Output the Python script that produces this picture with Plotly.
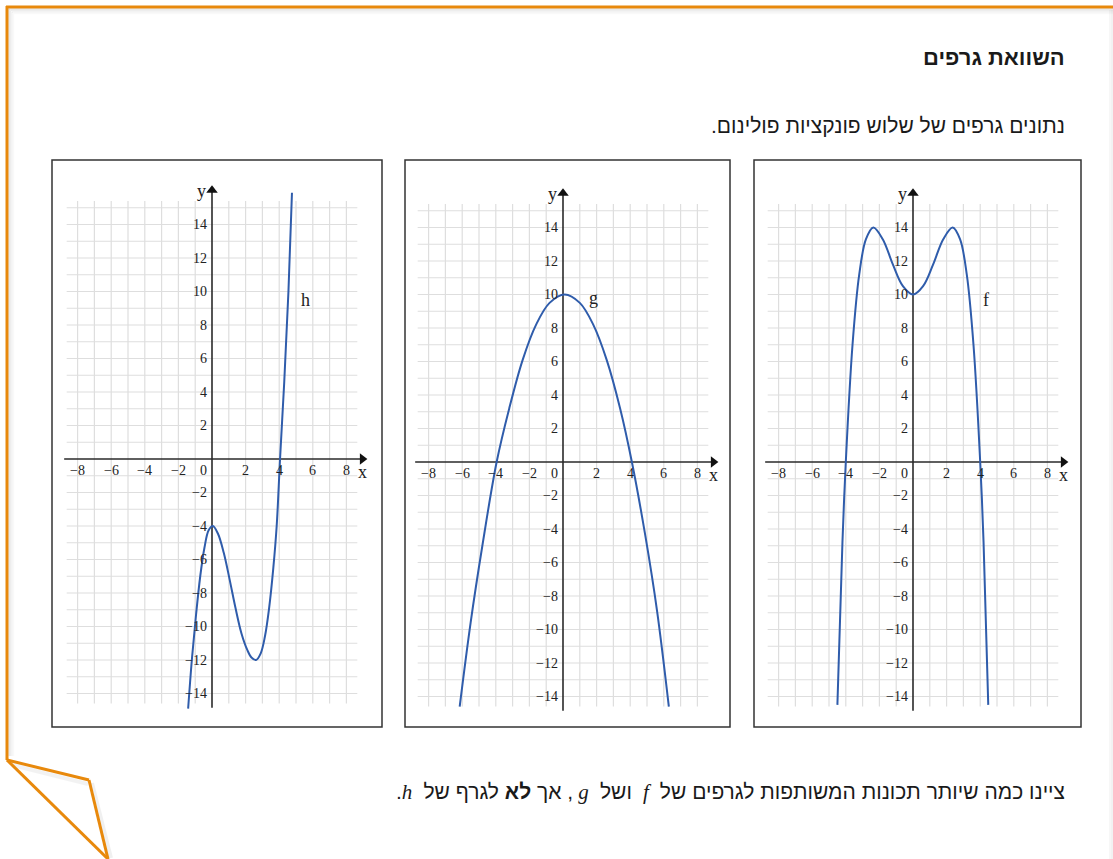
import plotly.graph_objects as go

W, H = 1113, 859

# ---------------- data ----------------
h_x = [-1.42, -1.2, -0.95, -0.7, -0.45, -0.2, 0.05, 0.35, 0.7, 1.05, 1.4, 1.75, 2.1, 2.35,
       2.62, 2.9, 3.15, 3.4, 3.65, 3.85, 4.05, 4.3, 4.55, 4.76]
h_y = [-14.9, -12.0, -9.3, -7.0, -5.3, -4.25, -4.0, -4.45, -5.6, -7.2, -8.9, -10.4, -11.4, -11.85,
       -12.0, -11.6, -10.6, -8.9, -6.5, -4.0, 0.0, 4.6, 10.0, 15.9]

g_x = [-6.15, -5.5, -4.8, -3.95, -3.2, -2.4, -1.6, -0.8, 0.1, 1.0, 1.8, 2.6, 3.4, 4.1, 4.9, 5.6, 6.3]
g_y = [-14.6, -9.6, -5.0, 0.0, 3.2, 6.1, 8.2, 9.5, 10.0, 9.5, 8.2, 6.1, 3.2, 0.0, -4.4, -8.9, -14.6]

f_x = [-4.5, -4.2, -4.0, -3.6, -3.2, -2.8, -2.36, -1.8, -1.2, -0.6, 0.0,
       0.6, 1.2, 1.8, 2.36, 2.8, 3.2, 3.6, 4.0, 4.2, 4.48]
f_y = [-14.5, -4.8, 0.0, 7.0, 11.2, 13.3, 14.0, 13.3, 11.8, 10.5, 10.0,
       10.5, 11.8, 13.3, 14.0, 13.3, 11.2, 7.0, 0.0, -4.8, -14.5]

x_tick_vals = [-8, -6, -4, -2, 2, 4, 6, 8]
y_tick_vals = [-14, -12, -10, -8, -6, -4, -2, 2, 4, 6, 8, 10, 12, 14]
grid_x_vals = [-8, -7, -6, -5, -4, -3, -2, -1, 1, 2, 3, 4, 5, 6, 7, 8]
grid_y_vals = [-14, -13, -12, -11, -10, -9, -8, -7, -6, -5, -4, -3, -2, -1,
               1, 2, 3, 4, 5, 6, 7, 8, 9, 10, 11, 12, 13, 14, 15]
curve_names = ["h", "g", "f"]
curve_label_pos = [(5.55, 9.5), (1.8, 9.8), (4.35, 9.7)]

title_text = "השוואת גרפים"
intro_text = "נתונים גרפים של שלוש פונקציות פולינום."
question_html = ("ציינו כמה שיותר תכונות המשותפות לגרפים של "
                 "<span style='font-family:Liberation Serif;font-style:italic'> f </span> ושל "
                 "<span style='font-family:Liberation Serif;font-style:italic'> g </span>, אך "
                 "<b>לא</b> לגרף של "
                 "<span style='font-family:Liberation Serif;font-style:italic'> h</span>.")

# ---------------- layout geometry ----------------
PXU_X, PXU_Y = 16.8, 16.75
panels = [
    dict(box=(52, 382, 160, 727), origin=(212, 459), xs=h_x, ys=h_y),
    dict(box=(405, 730, 160, 727), origin=(563, 462), xs=g_x, ys=g_y),
    dict(box=(754, 1081, 160, 727), origin=(913, 462), xs=f_x, ys=f_y),
]

CURVE = "#2f5cab"
AX = "#2a2a2a"
GRID = "#dedede"
TICKC = "#222222"
SERIF = "Liberation Serif, Times New Roman, serif"
SANS = "Liberation Sans, Arial, DejaVu Sans, sans-serif"
ORANGE = "#E8890C"

fig = go.Figure()
annotations = []
shapes = []
layout_axes = {}

for i, p in enumerate(panels):
    n = i + 1
    xa = "x" if n == 1 else f"x{n}"
    ya = "y" if n == 1 else f"y{n}"
    x0, x1, y0, y1 = p["box"]
    ox, oy = p["origin"]
    layout_axes["xaxis" if n == 1 else f"xaxis{n}"] = dict(
        domain=[x0 / W, x1 / W], range=[(x0 - ox) / PXU_X, (x1 - ox) / PXU_X],
        visible=False, fixedrange=True, anchor=ya)
    layout_axes["yaxis" if n == 1 else f"yaxis{n}"] = dict(
        domain=[1 - y1 / H, 1 - y0 / H], range=[(oy - y1) / PXU_Y, (oy - y0) / PXU_Y],
        visible=False, fixedrange=True, anchor=xa)

    # grid
    gx, gy = [], []
    for v in grid_x_vals:
        gx += [v, v, None]
        gy += [-14.6, 15.4, None]
    fig.add_trace(go.Scatter(x=gx, y=gy, mode="lines", line=dict(color=GRID, width=1.2),
                             xaxis=xa, yaxis=ya, hoverinfo="skip", showlegend=False))
    hx, hy = [], []
    for v in grid_y_vals:
        hx += [-8.65, 8.65, None]
        hy += [v, v, None]
    fig.add_trace(go.Scatter(x=hx, y=hy, mode="lines", line=dict(color=GRID, width=1.2),
                             xaxis=xa, yaxis=ya, hoverinfo="skip", showlegend=False))
    # axes
    fig.add_trace(go.Scatter(x=[-8.8, 9.0, None, 0, 0], y=[0, 0, None, -14.85, 16.1],
                             mode="lines", line=dict(color=AX, width=1.6),
                             xaxis=xa, yaxis=ya, hoverinfo="skip", showlegend=False))
    fig.add_trace(go.Scatter(x=[8.95], y=[0], mode="markers",
                             marker=dict(symbol="triangle-right", size=10, color="#111"),
                             xaxis=xa, yaxis=ya, hoverinfo="skip", showlegend=False))
    fig.add_trace(go.Scatter(x=[0], y=[16.05], mode="markers",
                             marker=dict(symbol="triangle-up", size=10, color="#111"),
                             xaxis=xa, yaxis=ya, hoverinfo="skip", showlegend=False))
    # curve
    fig.add_trace(go.Scatter(x=p["xs"], y=p["ys"], mode="lines",
                             line=dict(color=CURVE, width=2, shape="spline", smoothing=1.0),
                             xaxis=xa, yaxis=ya, hoverinfo="skip", showlegend=False))

    # tick labels
    for v in x_tick_vals:
        annotations.append(dict(x=v, y=0, xref=xa, yref=ya, text=f"−{abs(v)}" if v < 0 else str(v),
                                showarrow=False, xanchor="center", yanchor="top", yshift=-2,
                                font=dict(family=SERIF, size=14, color=TICKC)))
    annotations.append(dict(x=0, y=0, xref=xa, yref=ya, text="0", showarrow=False,
                            xanchor="right", yanchor="top", xshift=-3, yshift=-2,
                            font=dict(family=SERIF, size=14, color=TICKC)))
    for v in y_tick_vals:
        annotations.append(dict(x=0, y=v, xref=xa, yref=ya, text=f"−{abs(v)}" if v < 0 else str(v),
                                showarrow=False, xanchor="right", yanchor="middle", xshift=-3,
                                font=dict(family=SERIF, size=14, color=TICKC)))
    annotations.append(dict(x=8.95, y=-0.75, xref=xa, yref=ya, text="x", showarrow=False,
                            font=dict(family=SERIF, size=18, color="#222")))
    annotations.append(dict(x=-0.6, y=16.0, xref=xa, yref=ya, text="y", showarrow=False,
                            font=dict(family=SERIF, size=18, color="#222")))
    lx, ly = curve_label_pos[i]
    annotations.append(dict(x=lx, y=ly, xref=xa, yref=ya, text=curve_names[i], showarrow=False,
                            font=dict(family=SERIF, size=18, color="#222")))
    # panel border
    shapes.append(dict(type="rect", xref=f"{xa} domain", yref=f"{ya} domain",
                       x0=0, x1=1, y0=0, y1=1, line=dict(color="#333", width=1.5)))


def px(x):
    return x / W


def py(y):
    return 1 - y / H


# page shadow (inner, soft)
for k, a in enumerate([0.10, 0.07, 0.045, 0.025]):
    d = 9 + 1.5 * k
    shapes.append(dict(type="line", xref="paper", yref="paper", x0=px(d), x1=px(W),
                       y0=py(d), y1=py(d), line=dict(color=f"rgba(0,0,0,{a})", width=1.5)))
    shapes.append(dict(type="line", xref="paper", yref="paper", x0=px(d), x1=px(d),
                       y0=py(d), y1=py(756), line=dict(color=f"rgba(0,0,0,{a})", width=1.5)))
for k, a in enumerate([0.05, 0.03]):
    xx = W - 1 - 2 * k
    shapes.append(dict(type="line", xref="paper", yref="paper", x0=px(xx), x1=px(xx),
                       y0=py(10), y1=py(H), line=dict(color=f"rgba(0,0,0,{a})", width=2)))
# fold shadow
shapes.append(dict(type="line", xref="paper", yref="paper", x0=px(92), x1=px(111),
                   y0=py(783), y1=py(858), line=dict(color="rgba(0,0,0,0.06)", width=4)))
shapes.append(dict(type="line", xref="paper", yref="paper", x0=px(12), x1=px(88),
                   y0=py(765), y1=py(784), line=dict(color="rgba(0,0,0,0.05)", width=4)))

# orange frame
orange_lines = [((6, 7), (W, 7)), ((7, 6), (7, 760)), ((7, 760), (89, 780)),
                ((89, 780), (108, 859)), ((7, 760), (108, 859))]
for (a, b) in orange_lines:
    shapes.append(dict(type="line", xref="paper", yref="paper", x0=px(a[0]), y0=py(a[1]),
                       x1=px(b[0]), y1=py(b[1]), line=dict(color=ORANGE, width=3)))

RLE, PDF = "\u202B", "\u202C"
annotations.append(dict(x=px(1067), y=py(57), xref="paper", yref="paper", text=f"<b>{RLE}{title_text}{PDF}</b>",
                        showarrow=False, xanchor="right", yanchor="middle",
                        font=dict(family=SANS, size=22, color="#1a1a1a")))
annotations.append(dict(x=px(1067), y=py(125), xref="paper", yref="paper", text=f"{RLE}{intro_text}{PDF}",
                        showarrow=False, xanchor="right", yanchor="middle",
                        font=dict(family=SANS, size=21, color="#1a1a1a")))
annotations.append(dict(x=px(1067), y=py(792), xref="paper", yref="paper", text=f"{RLE}{question_html}{PDF}",
                        showarrow=False, xanchor="right", yanchor="middle",
                        font=dict(family=SANS, size=21, color="#1a1a1a")))

fig.update_layout(width=W, height=H, autosize=False,
                  margin=dict(l=0, r=0, t=0, b=0, pad=0),
                  paper_bgcolor="white", plot_bgcolor="rgba(0,0,0,0)",
                  showlegend=False, annotations=annotations, shapes=shapes,
                  **layout_axes)

fig.write_html("out.html", config={"displayModeBar": False},
               post_script="document.body.style.margin='0px';document.body.style.overflow='hidden';")
